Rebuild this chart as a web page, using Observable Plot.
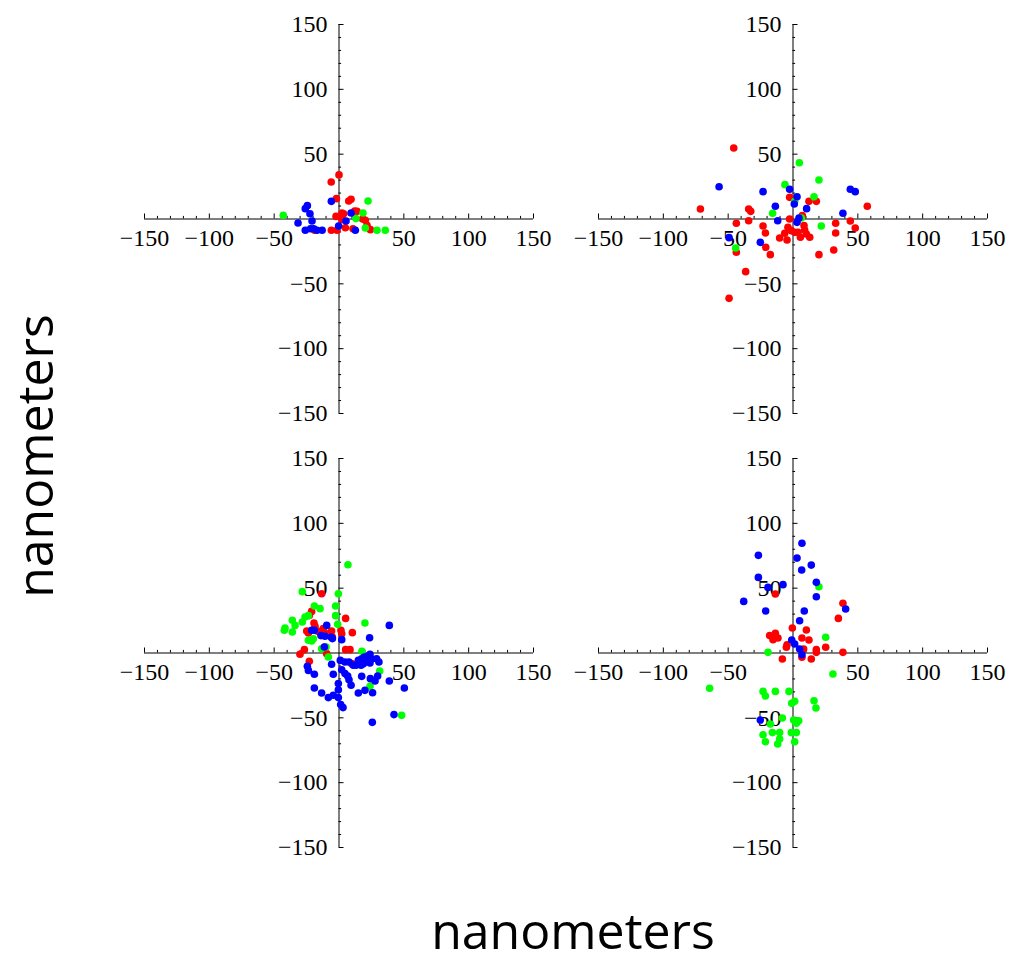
<!DOCTYPE html>
<html><head><meta charset="utf-8">
<script src="https://cdn.jsdelivr.net/npm/d3@7"></script>
<script src="https://cdn.jsdelivr.net/npm/@observablehq/plot@0.6"></script>
<style>
body{margin:0;background:#fff;}
#wrap{position:relative;width:1009px;height:954px;overflow:hidden;background:#fff;}
.panel{position:absolute;}
.panel svg{max-width:none !important;background:transparent !important;overflow:visible;}
.lab{position:absolute;font-family:"Open Sans",sans-serif;font-size:50px;line-height:44px;white-space:nowrap;color:#000;}
</style></head><body><div id="wrap"></div>
<script>
// ---- axis ticks / labels ----
const majorTicks = [-150, -100, -50, 50, 100, 150];
const minorTicks = [-140,-130,-120,-110,-90,-80,-70,-60,-40,-30,-20,-10,10,20,30,40,60,70,80,90,110,120,130,140];
const tickLabels = ["\u2212150", "\u2212100", "\u221250", "50", "100", "150"];
const axisLabel = "nanometers";

// ---- top-left panel ----
const tlRed = [[0,34],[-6,28.5],[-2,15.7],[7.5,13.9],[9.3,15.2],[-2.3,2],[2.3,4.6],[3.6,4.1],[-5.9,-8.7],[-1.5,-8.7],[4.9,-6.7],[10.8,-7.5],[12.1,6.2],[13.9,5.9],[18.2,0],[20.3,-1],[24.2,-8.2],[-18.8,-8.7],[2.3,-0.5],[21.6,-4.9]];
const tlGreen = [[-43,2.8],[22.4,13.9],[18.5,4.6],[13.1,0.3],[20.3,-6.9],[29.3,-8.7],[35.7,-8.7]];
const tlBlue = [[-26,8],[-24.4,10.3],[-22.4,4.1],[-31.6,-3.1],[-20.8,-1.5],[-26,-8.7],[-22,-7.5],[-19.5,-7.5],[-17,-8.7],[-13,-8.7],[-5.9,13.6],[-0.3,-5.4],[5.4,-1.5],[9.3,4.6],[12.6,-8.7]];

// ---- top-right panel ----
const trRed = [[-45.7,54.7],[-71.4,7.7],[-34.2,7.7],[-32.6,5.9],[-43.7,-3.3],[-34.2,-1.3],[-23.1,-5.4],[-21.3,-10.8],[-10.3,-14.6],[-4.6,-16.2],[-6.4,-11],[-2.6,0],[-2.6,16.7],[-21,-21.8],[-17.5,-27.5],[-43.7,-25.7],[-36.5,-40.6],[-49.3,-61.2],[-3.9,-6.4],[-1.3,-9],[1.3,-10.3],[3.9,-10.3],[7.2,2.6],[8.5,-5.1],[9,-8.5],[10.3,-11.6],[12.9,-14.1],[12.3,13.6],[18,13.6],[20,-27.5],[31.4,-23.9],[32.9,-3.3],[32.9,-10.8],[44.2,-1.5],[48,-6.9],[57.3,9.8],[5.7,-14.1]];
const trGreen = [[4.9,43.4],[20,30.1],[-6.2,26.5],[16.2,17.2],[-15.7,4.4],[21.8,-5.4],[-44.2,-22.4],[1.3,13.6],[6.4,0.8]];
const trBlue = [[-57,24.9],[-23.1,21.1],[-13.6,9.8],[-11.8,-1.3],[-49.3,-14.4],[-25.2,-18],[-2.6,22.9],[3.1,17.2],[1,11.6],[10.5,8],[4.6,0.8],[3.1,-2.6],[38.5,4.4],[44.2,22.9],[48,21.1]];

// ---- bottom-left panel ----
const blRed = [[-13.4,45.7],[-21.1,32.1],[-22.9,29],[-19.3,23.1],[-18.5,20.6],[-24.9,17],[-23.6,15.4],[-16.4,16.7],[-12.1,18.8],[-10.8,15.4],[-5.7,17],[-5.1,12.3],[2.1,14.9],[1.5,17.5],[5.1,26.7],[10.3,15.7],[-26.7,2.6],[-30.1,-1],[-22.9,-6.4],[-10.8,4.6],[-9.5,-0.5],[5.1,2.6],[8.5,2.6],[9.8,-8.2]];
const blGreen = [[6.9,68.1],[-28.3,47.3],[-0.5,45.7],[-19,36.2],[-14.6,34.2],[-2.6,36.2],[-2.6,28.8],[-26.2,27.8],[-23.6,28.8],[-36,25.2],[-33.9,21.3],[-41.6,19.3],[-42.2,17.5],[-36,16.2],[-28.3,23.9],[-1,22.1],[20,23.1],[-23.6,9.8],[-21.1,9.3],[-19.8,11],[-13.4,3.3],[-10,4.6],[-8.2,-3.1],[17.7,1.3],[31.4,-13.9],[23.9,-25.7],[48.3,-48.1]];
const blBlue = [[-9.5,21.3],[-21.1,17.5],[-19,17.5],[-13.9,13.4],[-10.8,12.9],[-6.2,12.3],[-5.1,11.1],[2.1,10.3],[38.8,21.3],[23.6,11.8],[-11.3,4.6],[1,-5.7],[4.6,-6.9],[7.7,-6.9],[11,-9.5],[14.9,-5.7],[17.5,-4.4],[19.5,-3.1],[22.1,-2.6],[23.9,-1],[25.2,-4.6],[13.1,-9.5],[17,-9.5],[18.8,-8.2],[20.6,-6.4],[23.9,-7.7],[29,-4.4],[30.8,-6.9],[-24.4,-10.3],[-23.6,-13.4],[-19,-16.4],[-5.7,-8.7],[-4.4,-16.4],[2.1,-12.9],[4.6,-15.9],[6.7,-17.7],[7.7,-20.6],[9.3,-24.9],[-0.5,-23.6],[17.5,-18],[24.2,-19.8],[27.8,-21.6],[29.8,-17.7],[38.8,-21.6],[50.4,-27],[14.9,-30.8],[20,-28.8],[25.9,-30.6],[-19,-27],[-13.4,-30.8],[-8.2,-34.4],[-4.4,-32.6],[-0.5,-34.4],[-0.5,-28.3],[1.3,-39.8],[3.1,-42.1],[42.4,-47.5],[25.7,-53.5]];

// ---- bottom-right panel ----
const brRed = [[-13.6,45.5],[38.5,38.3],[35,26.7],[-0.5,19.3],[10.3,17.7],[-18,13.4],[-13.6,15.2],[-15.4,10.3],[-11.6,11.6],[6.9,11.6],[12.3,10],[-4.6,6.4],[-5.1,4.4],[8.2,3.1],[6.9,-3.3],[18,2.6],[18,0.5],[25.2,4.4],[-8.2,-4.6],[14.1,-4.6],[38.5,0.5]];
const brGreen = [[20,51.1],[25.2,12.1],[-19.3,0.5],[30.8,-16.2],[-64.3,-27.2],[-23.1,-29.6],[-21.3,-33.2],[-13.6,-29.6],[-3.1,-29.6],[1.3,-37.3],[-1,-38.8],[16.2,-36.8],[17.7,-42.4],[-8.2,-50.1],[0.5,-51.7],[2.6,-54.2],[4.4,-52.2],[-23.1,-63],[-15.9,-61.4],[-10.3,-61.4],[-21.3,-68.4],[-11.8,-70.2],[-10.3,-66.3],[-1.3,-61.4],[2.6,-61.4],[1.3,-68.4],[-17.5,-54.7]];
const brBlue = [[6.9,84.6],[-26.7,75.3],[3.1,73.2],[14.1,67.8],[6.7,64],[-26.7,58.3],[-19.3,50.6],[-7.7,52.7],[18,54.5],[18,43.4],[-38,39.8],[-21.1,32.4],[8.7,32.4],[40.6,33.9],[5.1,24.9],[-1,10],[1.3,6.9],[5.1,3.1],[6.9,-1.3],[-25.2,-51.7]];

const RED = "#ff0000", GREEN = "#00ff00", BLUE = "#0000ff";
const SPAN = 389;               // pixel length of each axis
const PPU = SPAN / 300;         // pixels per nanometer
const M = {l: 40, r: 30, t: 20, b: 20};
const serif = "Liberation Serif, Times New Roman, serif";

function panel(red, green, blue, left, top) {
  const tickUp = (px) => px / PPU;
  const W = SPAN + M.l + M.r, H = SPAN + M.t + M.b;
  const fig = Plot.plot({
    width: W,
    height: H,
    marginLeft: M.l, marginRight: M.r, marginTop: M.t, marginBottom: M.b,
    x: {domain: [-150, 150], axis: null},
    y: {domain: [-150, 150], axis: null},
    style: {background: "transparent", overflow: "visible"},
    marks: [
      Plot.ruleY([0], {x1: -150, x2: 150, stroke: "#000", strokeWidth: 1}),
      Plot.ruleX([0], {y1: -150, y2: 150, stroke: "#000", strokeWidth: 1}),
      Plot.ruleX(minorTicks, {x: d => d, y1: 0, y2: tickUp(2.6), stroke: "#000"}),
      Plot.ruleX(majorTicks, {x: d => d, y1: 0, y2: tickUp(5), stroke: "#000"}),
      Plot.ruleY(minorTicks, {y: d => d, x1: 0, x2: tickUp(2.6), stroke: "#000"}),
      Plot.ruleY(majorTicks, {y: d => d, x1: 0, x2: tickUp(5), stroke: "#000"}),
      Plot.text(majorTicks, {x: d => d, y: () => 0, text: (d, i) => tickLabels[i], dy: 19, fontSize: 24, fontFamily: serif, fill: "#000"}),
      Plot.text(majorTicks, {y: d => d, x: () => 0, text: (d, i) => tickLabels[i], dx: -11.5, textAnchor: "end", fontSize: 24, fontFamily: serif, fill: "#000"}),
      Plot.dot(red, {x: d => d[0], y: d => d[1], r: 3.8, fill: RED, stroke: null}),
      Plot.dot(green, {x: d => d[0], y: d => d[1], r: 3.8, fill: GREEN, stroke: null}),
      Plot.dot(blue, {x: d => d[0], y: d => d[1], r: 3.8, fill: BLUE, stroke: null})
    ]
  });
  fig.style.maxWidth = "none";
  fig.style.width = W + "px";
  fig.style.height = H + "px";
  const holder = document.createElement("div");
  holder.className = "panel";
  holder.style.left = (left - M.l) + "px";
  holder.style.top = (top - M.t) + "px";
  holder.style.width = W + "px";
  holder.style.height = H + "px";
  holder.appendChild(fig);
  document.getElementById("wrap").appendChild(holder);
}

// left / top = pixel position of the axis' -150 (x) and +150 (y) ends
panel(tlRed, tlGreen, tlBlue, 144, 24);
panel(trRed, trGreen, trBlue, 598, 24);
panel(blRed, blGreen, blBlue, 144, 458.3);
panel(brRed, brGreen, brBlue, 598, 458.3);

const wrap = document.getElementById("wrap");
const xl = document.createElement("div");
xl.className = "lab";
xl.textContent = axisLabel;
xl.style.left = "573px";
xl.style.top = "908px";
xl.style.transform = "translateX(-50%)";
wrap.appendChild(xl);

const yl = document.createElement("div");
yl.className = "lab";
yl.textContent = axisLabel;
yl.style.left = "34px";
yl.style.top = "456px";
yl.style.transform = "translate(-50%,-50%) rotate(-90deg)";
wrap.appendChild(yl);
</script></body></html>
